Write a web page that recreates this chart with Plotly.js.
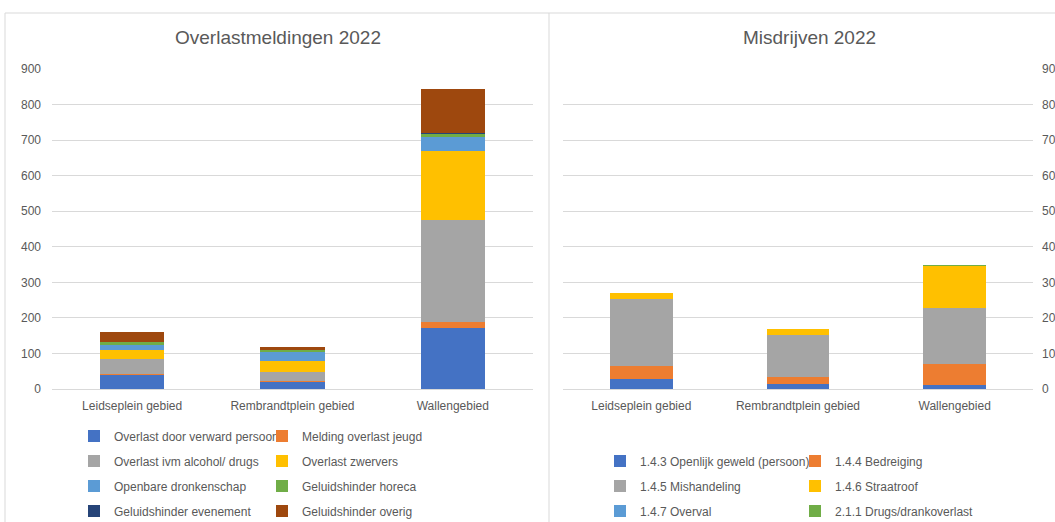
<!DOCTYPE html>
<html>
<head>
<meta charset="utf-8">
<script src="https://cdn.plot.ly/plotly-3.0.1.min.js"></script>
<style>
html,body{margin:0;padding:0;background:#fff;overflow:hidden;}
#chart{width:1055px;height:522px;}
</style>
</head>
<body>
<div id="chart"></div>
<script>
// ---- Data ----
const gebieden = ["Leidseplein gebied", "Rembrandtplein gebied", "Wallengebied"];

const overlastNames = [
  "Overlast door verward persoon", "Melding overlast jeugd",
  "Overlast ivm alcohol/ drugs", "Overlast zwervers",
  "Openbare dronkenschap", "Geluidshinder horeca",
  "Geluidshinder evenement", "Geluidshinder overig"
];
const verwardPersoon   = [41, 20, 172];
const overlastJeugd    = [1, 3, 17];
const alcoholDrugs     = [42, 26, 285];
const zwervers         = [27, 29, 196];
const dronkenschap     = [12, 28, 39];
const horeca           = [8, 4, 10];
const evenement        = [0, 1, 1];
const overig           = [28, 8, 125];

const misdrijfNames = [
  "1.4.3 Openlijk geweld (persoon)", "1.4.4 Bedreiging",
  "1.4.5 Mishandeling", "1.4.6 Straatroof",
  "1.4.7 Overval", "2.1.1 Drugs/drankoverlast"
];
const openlijkGeweld = [27, 15, 10];
const bedreiging     = [38, 20, 61];
const mishandeling   = [189, 117, 157];
const straatroof     = [15, 16, 118];
const overval        = [0, 0, 0];
const drugsDrank     = [0, 0, 2];

const yTicks = [0, 100, 200, 300, 400, 500, 600, 700, 800, 900];

// ---- Styles ----
const officeColors = ["#4472C4", "#ED7D31", "#A5A5A5", "#FFC000", "#5B9BD5", "#70AD47", "#264478", "#9E480E"];
const W = 1055, H = 522;
const FONT = "Liberation Sans, Arial, sans-serif";
const TXT = "#595959";
const GRID = "#d9d9d9";

const overlastSeries = [verwardPersoon, overlastJeugd, alcoholDrugs, zwervers, dronkenschap, horeca, evenement, overig];
const misdrijfSeries = [openlijkGeweld, bedreiging, mishandeling, straatroof, overval, drugsDrank];

const traces = [];
overlastSeries.forEach((vals, i) => {
  const row = Math.floor(i / 2);
  traces.push({
    type: "bar", x: gebieden, y: vals, name: overlastNames[i],
    xaxis: "x", yaxis: "y",
    marker: {color: officeColors[i], line: {width: 0}},
    legend: row === 0 ? "legend" : "legend" + (row + 1),
    hoverinfo: "x+y+name"
  });
});
misdrijfSeries.forEach((vals, i) => {
  const row = Math.floor(i / 2);
  traces.push({
    type: "bar", x: gebieden, y: vals, name: misdrijfNames[i],
    xaxis: "x2", yaxis: "y2",
    marker: {color: officeColors[i], line: {width: 0}},
    legend: "legend" + (row + 5),
    hoverinfo: "x+y+name"
  });
});

const yDom = [1 - 389 / H, 1 - 69 / H];
function px(x) { return x / W; }
function py(y) { return 1 - y / H; }

function legendRow(xLeft, yCenter, entryW) {
  return {
    orientation: "h", x: px(xLeft), xanchor: "left", y: py(yCenter), yanchor: "middle",
    bgcolor: "rgba(0,0,0,0)", borderwidth: 0,
    font: {family: FONT, size: 12, color: TXT},
    entrywidth: entryW, entrywidthmode: "pixels",
    itemwidth: 30, traceorder: "normal",
    itemclick: false, itemdoubleclick: false
  };
}

const axisCommon = {
  tickfont: {family: FONT, size: 12, color: TXT},
  showline: false, zeroline: false, ticks: "", fixedrange: true
};

const layout = {
  width: W, height: H,
  margin: {l: 0, r: 0, t: 0, b: 0, pad: 0, autoexpand: false},
  paper_bgcolor: "#fff", plot_bgcolor: "rgba(0,0,0,0)",
  barmode: "stack", bargap: 0.6,
  font: {family: FONT, color: TXT},
  showlegend: true,
  xaxis: Object.assign({}, axisCommon, {
    domain: [px(52), px(533)], anchor: "y", showgrid: false,
    showline: true, linecolor: GRID, linewidth: 1, ticklabelstandoff: 6
  }),
  yaxis: Object.assign({}, axisCommon, {
    domain: yDom, anchor: "x", range: [0, 900], tickvals: yTicks,
    showgrid: true, gridcolor: GRID, gridwidth: 1, ticklabelstandoff: 10
  }),
  xaxis2: Object.assign({}, axisCommon, {
    domain: [px(563), px(1033)], anchor: "y2", showgrid: false,
    showline: true, linecolor: GRID, linewidth: 1, ticklabelstandoff: 6
  }),
  yaxis2: Object.assign({}, axisCommon, {
    domain: yDom, anchor: "x2", side: "right", range: [0, 900], tickvals: yTicks,
    showgrid: true, gridcolor: GRID, gridwidth: 1, ticklabelstandoff: 8
  }),
  legend: legendRow(74, 436, 143),
  legend2: legendRow(74, 461, 143),
  legend3: legendRow(74, 486, 143),
  legend4: legendRow(74, 511, 143),
  legend5: legendRow(600, 461, 150),
  legend6: legendRow(600, 486, 150),
  legend7: legendRow(600, 511, 150),
  annotations: [
    {text: "Overlastmeldingen 2022", x: px(278), y: py(38), xref: "paper", yref: "paper",
     xanchor: "center", yanchor: "middle", showarrow: false,
     font: {family: FONT, size: 19, color: TXT}},
    {text: "Misdrijven 2022", x: px(809), y: py(38), xref: "paper", yref: "paper",
     xanchor: "center", yanchor: "middle", showarrow: false,
     font: {family: FONT, size: 19, color: TXT}}
  ],
  shapes: [
    {type: "line", xref: "paper", yref: "paper", x0: px(5), x1: px(5), y0: py(13), y1: 0, line: {color: GRID, width: 1}},
    {type: "line", xref: "paper", yref: "paper", x0: px(5), x1: 1, y0: py(13), y1: py(13), line: {color: GRID, width: 1}},
    {type: "line", xref: "paper", yref: "paper", x0: px(549), x1: px(549), y0: py(13), y1: 0, line: {color: GRID, width: 1}}
  ]
};

Plotly.newPlot("chart", traces, layout, {displayModeBar: false, responsive: false});
</script>
</body>
</html>
